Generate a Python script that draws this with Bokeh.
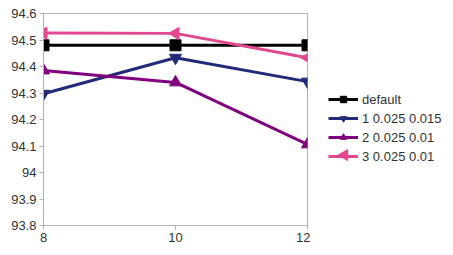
import math
from bokeh.plotting import figure
from bokeh.layouts import row
from bokeh.models import FixedTicker, Legend, LegendItem, ColumnDataSource
from bokeh.embed import file_html
from bokeh.resources import INLINE

x_vals = [8, 10, 12]
default_vals = [94.48, 94.48, 94.48]
s1_vals = [94.297, 94.433, 94.343]
s2_vals = [94.385, 94.34, 94.106]
s3_vals = [94.526, 94.525, 94.433]
y_ticks = [93.8, 93.9, 94.0, 94.1, 94.2, 94.3, 94.4, 94.5, 94.6]
y_labels = ["93.8", "93.9", "94", "94.1", "94.2", "94.3", "94.4", "94.5", "94.6"]
x_ticks = [8, 10, 12]
names = ["default", "1 0.025 0.015", "2 0.025 0.01", "3 0.025 0.01"]
colors = ["#000000", "#232a7a", "#800080", "#e3488e"]

p = figure(width=310, height=247, x_range=(8, 12), y_range=(93.8, 94.6),
           output_backend="svg", toolbar_location=None,
           min_border_left=43, min_border_right=3, min_border_top=13, min_border_bottom=22)
p.xgrid.visible = False
p.ygrid.visible = False
p.outline_line_color = "#b3b3b3"
p.background_fill_color = "white"
p.border_fill_color = "white"

for ax in (p.xaxis[0], p.yaxis[0]):
    ax.axis_line_color = "#b3b3b3"
    ax.major_tick_line_color = "#b3b3b3"
    ax.minor_tick_line_color = None
    ax.major_tick_in = 0
    ax.major_tick_out = 4
    ax.major_label_text_font = "Liberation Sans"
    ax.major_label_text_font_size = "13px"
    ax.major_label_text_color = "#333333"
    ax.major_label_standoff = 3

p.yaxis[0].ticker = FixedTicker(ticks=y_ticks)
p.yaxis[0].major_label_overrides = {t: l for t, l in zip(y_ticks, y_labels)}
p.xaxis[0].ticker = FixedTicker(ticks=x_ticks)

# legend-only figure (pixel-like data space, offset so the proxy data stays hidden)
p2 = figure(width=135, height=247, x_range=(100, 235), y_range=(0, 247),
            output_backend="svg", toolbar_location=None,
            min_border=0, min_border_left=0, min_border_right=0,
            min_border_top=0, min_border_bottom=0)
p2.axis.visible = False
p2.grid.visible = False
p2.outline_line_color = None
p2.border_fill_color = "white"

series = [default_vals, s1_vals, s2_vals, s3_vals]
markers = ["square", "inverted_triangle", "triangle", "triangle"]
angles = [0, 0, 0, math.pi / 2]
sizes = [11, 12, 12, 12]
items = []
for vals, name, col, mk, ang, sz in zip(series, names, colors, markers, angles, sizes):
    src = ColumnDataSource(dict(x=x_vals, y=vals, a=[ang] * len(x_vals)))
    p.line("x", "y", source=src, line_color=col, line_width=3)
    p.scatter("x", "y", source=src, marker=mk, angle="a", size=sz, fill_color=col, line_color=col)
    # legend proxies in the legend figure (their data lies outside its visible range)
    l2 = p2.line("x", "y", source=src, line_color=col, line_width=3)
    rends = [l2]
    if ang == 0:
        s2 = p2.scatter("x", "y", source=src, marker=mk, size=sz - 1,
                        fill_color=col, line_color=col)
        rends.append(s2)
    items.append(LegendItem(label=name, renderers=rends, index=0))

# rotated legend marker for the last series (Bokeh legends ignore marker angle)
p2.scatter([134], [82], marker="triangle", angle=math.pi / 2, size=11,
           fill_color=colors[3], line_color=colors[3])

legend = Legend(items=items, location=(18, 61), orientation="vertical",
                label_text_font="Liberation Sans", label_text_font_size="13px",
                label_text_color="#333333", glyph_width=30, glyph_height=16,
                label_height=16, spacing=3, padding=0, margin=0, border_line_color=None,
                background_fill_alpha=0, label_standoff=4)
p2.add_layout(legend, "center")

layout = row(p, p2, spacing=0)
open("out.html", "w").write(file_html(layout, INLINE))
